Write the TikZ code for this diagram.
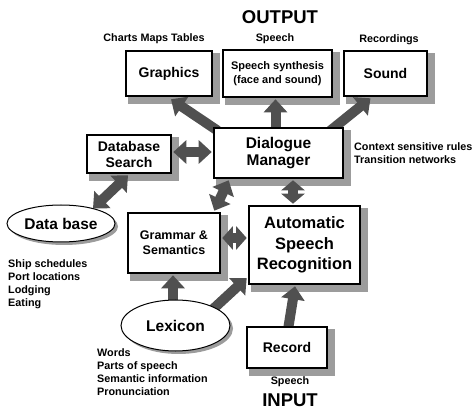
\documentclass[tikz,border=0pt]{standalone}
\usepackage{fontspec}
\setmainfont{Liberation Sans}
\usetikzlibrary{arrows.meta,calc,shapes.geometric}
\pgfdeclarelayer{bg}\pgfdeclarelayer{mid}
\pgfsetlayers{bg,mid,main}
\definecolor{arrc}{HTML}{505050}
\definecolor{shc}{HTML}{9C9C9C}
\newcommand\fsz[2]{\fontsize{#1}{#2}\selectfont\bfseries}
\newcommand\boxshadow[1]{\fill[shc] ($(#1.north west)+(3.7,3.7)$) rectangle ($(#1.south east)+(6.3,6.3)$);}
\tikzset{
  box/.style={draw, line width=2.6pt, fill=white, align=center, inner sep=0pt},
  oval/.style={ellipse, draw, line width=1pt, fill=white, inner sep=0pt},
  lbl/.style={font=\fsz{10.8}{13}, align=left, inner sep=0pt},
  arr/.style={draw=arrc, line width=10pt, -{Triangle[width=23pt,length=13pt]}},
  darr/.style={draw=arrc, line width=10pt, {Triangle[width=23pt,length=#1]}-{Triangle[width=23pt,length=#1]}},
  darr/.default=13pt
}
\begin{document}
\begin{tikzpicture}[x=1pt,y=-1pt]
\useasboundingbox (0,0) rectangle (472,409);
\begin{pgfonlayer}{bg}
\fill[white] (0,0) rectangle (472,409);
\end{pgfonlayer}

% boxes
\node[box, minimum width=86pt, minimum height=45pt, font=\fsz{14}{16}] (gr) at (169,73.5) {Graphics};
\node[box, minimum width=109pt, minimum height=47pt, font=\fsz{11}{14}] (ss) at (277.5,73.5) {Speech synthesis\\(face and sound)};
\node[box, minimum width=83pt, minimum height=45pt, font=\fsz{14}{16}] (so) at (385.5,73.5) {Sound};
\node[box, minimum width=129pt, minimum height=50pt, font=\fsz{15.5}{17}] (dm) at (278.5,153) {Dialogue\\Manager};
\node[box, minimum width=84pt, minimum height=38pt, font=\fsz{14}{16}] (ds) at (129,154) {Database\\Search};
\node[box, minimum width=92pt, minimum height=60pt, font=\fsz{12.5}{15}] (gs) at (174,243) {Grammar \&\\Semantics};
\node[box, minimum width=111pt, minimum height=78pt, font=\fsz{16.5}{20.5}] (asr) at (304.5,245) {Automatic\\Speech\\Recognition};
\node[box, minimum width=80pt, minimum height=41pt, font=\fsz{14}{16}] (rec) at (287,347.5) {Record};
\node[oval, minimum width=108pt, minimum height=37pt, font=\fsz{15.5}{17}] (db) at (61,223.5) {Data base};
\node[oval, minimum width=109pt, minimum height=51pt, font=\fsz{15.5}{17}] (lx) at (175.5,325.5) {Lexicon};

% shadows
\begin{pgfonlayer}{bg}
\boxshadow{gr}\boxshadow{ss}\boxshadow{so}\boxshadow{dm}\boxshadow{ds}
\boxshadow{gs}\boxshadow{asr}\boxshadow{rec}
\fill[shc] ($(db.center)+(3,3)$) ellipse [x radius=54pt, y radius=18.5pt];
\fill[shc] ($(lx.center)+(3,3)$) ellipse [x radius=54.5pt, y radius=25.5pt];
\end{pgfonlayer}

% labels
\node[font=\fsz{18.5}{20}, inner sep=0pt] (out) at (280,17) {OUTPUT};
\node[font=\fsz{18.5}{20}, inner sep=0pt] (inp) at (290,400) {INPUT};
\node[lbl] (cmt) at (154,39) {Charts Maps Tables};
\node[lbl] (sp1) at (275,39) {Speech};
\node[lbl] (rcd) at (389,40) {Recordings};
\node[lbl, anchor=west] (ctx) at (354,153.5) {Context sensitive rules\\Transition networks};
\node[lbl, anchor=west] (ship) at (8,284.5) {Ship schedules\\Port locations\\Lodging\\Eating};
\node[lbl, anchor=west] (wrd) at (97,372.5) {Words\\Parts of speech\\Semantic information\\Pronunciation};
\node[lbl] (sp2) at (290,382) {Speech};

% arrows
\begin{pgfonlayer}{mid}
\draw[arr] ($(dm.north west)+(5,4)$) -- ($(gr.south)+(2,2)$);
\draw[arr] ($(dm.north)+(-3,4)$) -- ($(ss.south)+(-2,1)$);
\draw[arr] ($(dm.north east)+(-14,4)$) -- ($(so.south)+(-15,1)$);
\draw[darr] ($(ds.east)+(1,-2)$) -- ($(dm.west)+(-1,-1)$);
\draw[darr] ($(ds.south)+(-1,1)$) -- ($(db.center)+(32,-15)$);
\draw[darr] ($(dm.south west)+(16,1)$) -- ($(gs.north east)+(-7,-1)$);
\draw[darr=10pt] ($(dm.south)+(14.5,1)$) -- ($(asr.north)+(-11.5,-1)$);
\draw[darr=10.5pt] ($(gs.east)+(1,-5)$) -- ($(asr.west)+(-1,-7)$);
\draw[arr] ($(lx.north)+(-2.5,4)$) -- ($(gs.south)+(-1,1)$);
\draw[arr] ($(lx.center)+(36,-15)$) -- ($(asr.west)+(-1,33)$);
\draw[arr] ($(rec.north)+(1,4)$) -- ($(asr.south)+(-9.5,1)$);
\end{pgfonlayer}
\end{tikzpicture}
\end{document}
